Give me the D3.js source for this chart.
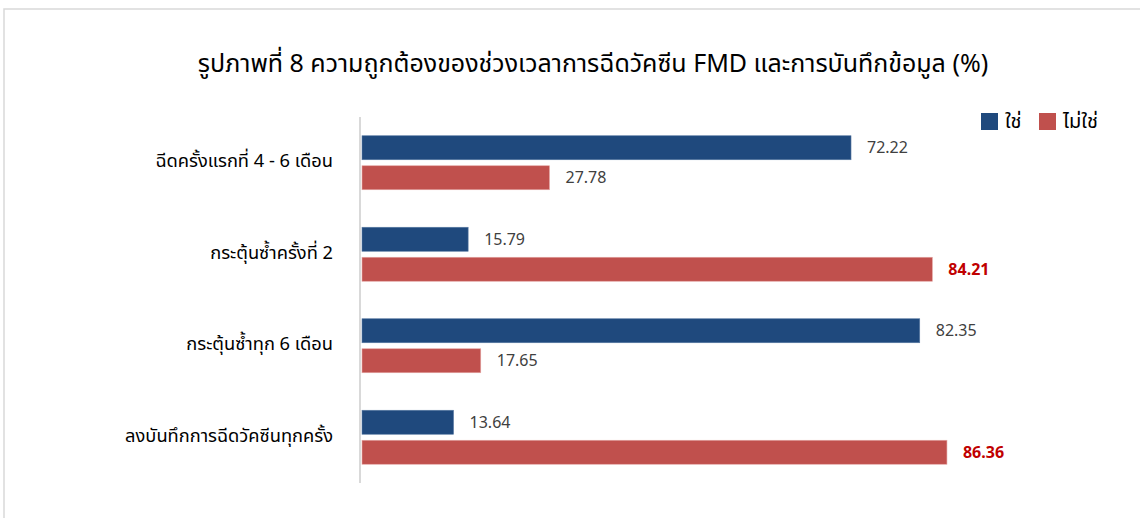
<!DOCTYPE html>
<html>
<head>
<meta charset="utf-8">
<script src="https://cdn.jsdelivr.net/npm/d3@7"></script>
<style>
    body { margin: 0; background: #fff; }
    svg text { font-family: "Noto Sans", "Noto Sans Thai", "DejaVu Sans", sans-serif; }
</style>
</head>
<body>
<svg id="chart"></svg>
<script>
const categories = ["ฉีดครั้งแรกที่ 4 - 6 เดือน", "กระตุ้นซ้ำครั้งที่ 2", "กระตุ้นซ้ำทุก 6 เดือน", "ลงบันทึกการฉีดวัคซีนทุกครั้ง"];
const seriesNames = ["ใช่", "ไม่ใช่"];
const yesValues = [72.22, 15.79, 82.35, 13.64];
const noValues = [27.78, 84.21, 17.65, 86.36];
const highlight = ["84.21", "86.36"];   // labels shown bold red
const chartTitle = "รูปภาพที่ 8 ความถูกต้องของช่วงเวลาการฉีดวัคซีน FMD และการบันทึกข้อมูล (%)";

const W = 1140, H = 518;
const colors = {"ใช่": "#1F497D", "ไม่ใช่": "#C0504D"};

const data = categories.map(function (c, i) {
    return {cat: c, values: [{s: "ใช่", v: yesValues[i]}, {s: "ไม่ใช่", v: noValues[i]}]};
});

const svg = d3.select("#chart").attr("width", W).attr("height", H);

// frame
svg.append("rect")
    .attr("x", 4).attr("y", 9)
    .attr("width", W + 10).attr("height", H + 10)
    .attr("fill", "#fff")
    .attr("stroke", "#d9d9d9")
    .attr("stroke-width", 1.5);

svg.append("text")
    .attr("x", 593).attr("y", 72)
    .attr("text-anchor", "middle")
    .attr("font-size", 25)
    .attr("fill", "#000")
    .text(chartTitle);

const x = d3.scaleLinear().domain([0, 100]).range([361, 361 + 678.5]);
const y0 = d3.scaleBand().domain(categories).range([117, 483]);
const y1 = d3.scaleBand().domain(seriesNames).range([18.75, 72.75]).paddingInner(0.2);

// axis line
svg.append("line")
    .attr("x1", 360).attr("x2", 360)
    .attr("y1", y0.range()[0]).attr("y2", y0.range()[1])
    .attr("stroke", "#d9d9d9").attr("stroke-width", 2);

// category labels
svg.selectAll(".cat")
    .data(categories)
    .enter().append("text")
    .attr("class", "cat")
    .attr("x", 333)
    .attr("y", function (d) { return y0(d) + y0.bandwidth() / 2 - 2; })
    .attr("dy", "0.35em")
    .attr("text-anchor", "end")
    .attr("font-size", 18.3)
    .attr("fill", "#000")
    .text(function (d) { return d; });

const groups = svg.selectAll(".grp")
    .data(data)
    .enter().append("g")
    .attr("class", "grp")
    .attr("transform", function (d) { return "translate(0," + y0(d.cat) + ")"; });

groups.selectAll("rect")
    .data(function (d) { return d.values; })
    .enter().append("rect")
    .attr("x", x(0) + 1)
    .attr("y", function (d) { return y1(d.s); })
    .attr("height", y1.bandwidth())
    .attr("width", function (d) { return x(d.v) - x(0) - 1; })
    .attr("fill", function (d) { return colors[d.s]; })
    .attr("stroke", function (d) { return d.s === "ใช่" ? "#5a7aa3" : "#e4a6a4"; })
    .attr("stroke-width", 0.6);

groups.selectAll(".val")
    .data(function (d) { return d.values; })
    .enter().append("text")
    .attr("class", "val")
    .attr("x", function (d) { return x(d.v) + 16; })
    .attr("y", function (d) { return y1(d.s) + y1.bandwidth() / 2; })
    .attr("dy", "0.35em")
    .attr("font-size", 16)
    .attr("font-weight", function (d) { return highlight.indexOf(d.v.toFixed(2)) >= 0 ? "bold" : "normal"; })
    .attr("fill", function (d) { return highlight.indexOf(d.v.toFixed(2)) >= 0 ? "#C00000" : "#404040"; })
    .text(function (d) { return d.v.toFixed(2); });

// legend
const legend = svg.selectAll(".leg")
    .data(seriesNames)
    .enter().append("g")
    .attr("class", "leg")
    .attr("transform", function (d, i) { return "translate(" + [981, 1039][i] + ",113)"; });

legend.append("rect")
    .attr("width", 17).attr("height", 17)
    .attr("fill", function (d) { return colors[d]; });

legend.append("text")
    .attr("x", 24).attr("y", 8)
    .attr("dy", "0.35em")
    .attr("font-size", 20)
    .attr("fill", "#000")
    .text(function (d) { return d; });
</script>
</body>
</html>
